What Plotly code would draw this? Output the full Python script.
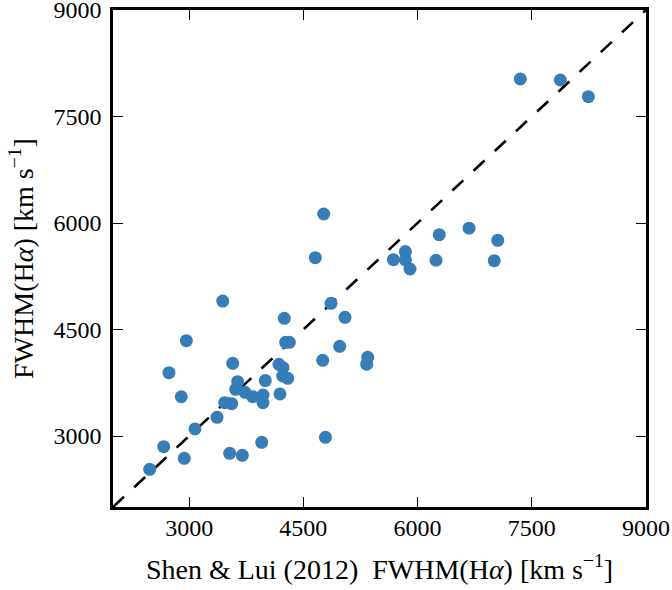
import plotly.graph_objects as go

x_shen = [2482, 2666, 2936, 2735, 2897, 2963, 3077, 3366, 3441, 3467, 3559, 3572, 3532,
          3637, 3611, 3734, 3698, 3835, 3970, 3970, 3953, 4000, 4193, 4180, 4233, 4229,
          4294, 4250, 4268, 4316, 4754, 4790, 4863, 4977, 5047, 5345, 5332, 4767, 4657,
          5682, 5840, 5840, 5901, 6285, 6242, 6676, 7053, 7007, 7349, 7875, 8243]
y_this = [2531, 2849, 2686, 3892, 3553, 4342, 3099, 3263, 4901, 3469, 3455, 4024, 2756,
          3765, 3658, 3615, 2728, 3553, 3577, 3469, 2911, 3780, 3592, 4010, 3962, 3845,
          3813, 4658, 4320, 4320, 4066, 2982, 4869, 4263, 4672, 4108, 4011, 6127, 5512,
          5484, 5597, 5480, 5352, 5836, 5475, 5927, 5756, 5470, 8028, 8014, 7779]
one_to_one = [2000, 9000]
tick_vals = [3000, 4500, 6000, 7500, 9000]
tick_text = ["3000", "4500", "6000", "7500", "9000"]

font = "Liberation Serif, Times New Roman, serif"

fig = go.Figure()
fig.add_trace(go.Scatter(x=one_to_one, y=one_to_one, mode="lines",
                         line=dict(color="black", width=2.6, dash="15px,14px"),
                         hoverinfo="skip", showlegend=False))
fig.add_trace(go.Scatter(x=x_shen, y=y_this, mode="markers",
                         marker=dict(color="#377eb8", size=13, line=dict(width=0)),
                         showlegend=False))

axis_common = dict(range=[2000, 9000], tickvals=tick_vals, ticktext=tick_text,
                   showgrid=False, zeroline=False, showline=True, mirror="ticks",
                   linecolor="black", linewidth=2.5, ticks="inside", ticklen=10,
                   tickwidth=1.3, tickcolor="black", automargin=False,
                   ticklabeloverflow="allow",
                   tickfont=dict(family=font, size=24, color="black"))

fig.update_xaxes(**axis_common, ticklabelstandoff=-3,
                 title=dict(text="Shen &amp; Lui (2012)  FWHM(H<i>α</i>) [km s<sup>−1</sup>]",
                            font=dict(family=font, size=28, color="black"), standoff=20))
fig.update_yaxes(**axis_common, ticklabelstandoff=4,
                 title=dict(text="FWHM(H<i>α</i>) [km s<sup>−1</sup>]",
                            font=dict(family=font, size=28, color="black"), standoff=12))

fig.update_layout(width=672, height=590, margin=dict(l=113, r=26, t=10, b=83),
                  plot_bgcolor="white", paper_bgcolor="white", showlegend=False)

fig.write_html("out.html", config={"displayModeBar": False},
               post_script="document.body.style.margin='0px';")
